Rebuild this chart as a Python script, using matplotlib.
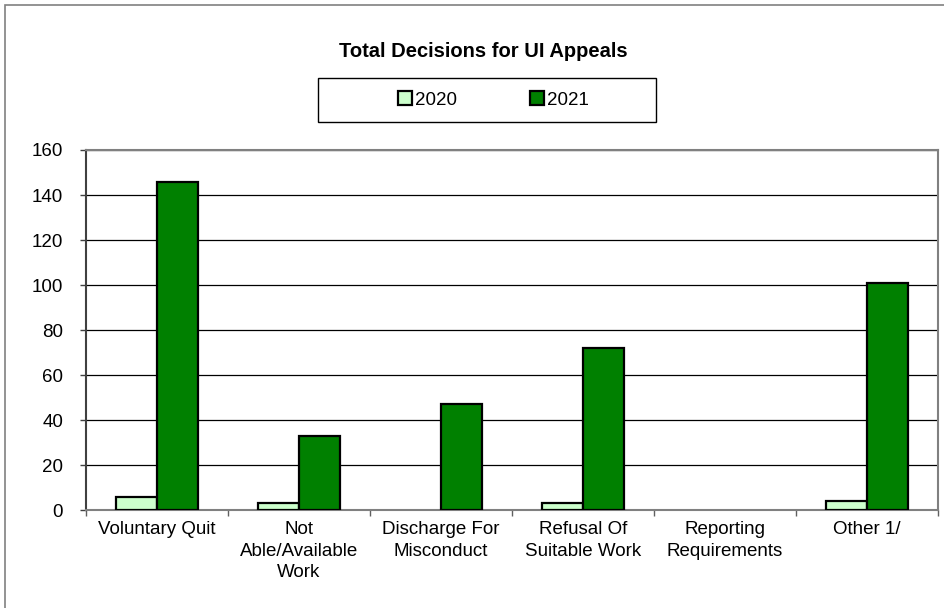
import numpy as np
import matplotlib.pyplot as plt
from matplotlib.patches import Rectangle

plt.rcParams['font.family'] = ['Liberation Sans', 'DejaVu Sans']

# data
categories = ["Voluntary Quit", "Not\nAble/Available\nWork", "Discharge For\nMisconduct",
              "Refusal Of\nSuitable Work", "Reporting\nRequirements", "Other 1/"]
vals_2020 = [6, 3, 0, 3, 0, 4]
vals_2021 = [146, 33, 47, 72, 0, 101]
yticks = [0, 20, 40, 60, 80, 100, 120, 140, 160]

c2020 = "#CCFFCC"
c2021 = "#008000"
fs = 13.5

fig = plt.figure(figsize=(9.45, 6.08), dpi=100)
ax = fig.add_axes([0.091, 0.161, 0.9016, 0.5923])

x = np.arange(len(categories))
w = 0.29

def edges(vals):
    # no outline for zero-height bars
    return ['black' if v > 0 else 'none' for v in vals]

ax.bar(x - w/2, vals_2020, w, color=c2020, edgecolor=edges(vals_2020), linewidth=1.6,
       label="2020", zorder=3)
ax.bar(x + w/2, vals_2021, w, color=c2021, edgecolor=edges(vals_2021), linewidth=1.6,
       label="2021", zorder=3)

ax.set_xlim(-0.5, len(categories) - 0.5)
ax.set_ylim(0, 160)
ax.set_yticks(yticks)
ax.tick_params(axis='y', labelsize=fs, length=4.5, width=1, color='#404040', pad=12)
ax.grid(axis='y', color='black', linewidth=0.9, zorder=0)

# category labels centered, tick marks on the boundaries
ax.set_xticks(x)
ax.set_xticklabels(categories, fontsize=fs, linespacing=1.33)
ax.tick_params(axis='x', length=0, pad=8)
ax.set_xticks(np.arange(len(categories) + 1) - 0.5, minor=True)
ax.tick_params(axis='x', which='minor', length=4.5, width=1, color='#606060')

for s in ['top', 'right', 'bottom']:
    ax.spines[s].set_color('#808080')
    ax.spines[s].set_linewidth(1.5)
ax.spines['left'].set_color('#404040')
ax.spines['left'].set_linewidth(1.5)

fig.text(0.511, 0.915, "Total Decisions for UI Appeals", ha='center', va='center',
         fontsize=14.5, fontweight='bold')

# legend box
fig.patches.append(Rectangle((318/945, 1 - 122/608), 338/945, 44/608,
                             transform=fig.transFigure, facecolor='white',
                             edgecolor='black', linewidth=1.0))
leg = fig.legend(loc='center', bbox_to_anchor=(0.522, 0.8355), ncol=2, fontsize=fs,
                 frameon=False, handlelength=0.75, handleheight=0.75,
                 handletextpad=0.15, columnspacing=3.9, borderaxespad=0)
for h in leg.legend_handles:
    h.set_linewidth(1.6)

# chart area border (runs past the right and bottom edges)
fig.patches.append(Rectangle((0.005, -0.1), 1.1, 1.092, transform=fig.transFigure,
                             fill=False, edgecolor='#808080', linewidth=1.2))

fig.savefig("out.png", dpi=100)
